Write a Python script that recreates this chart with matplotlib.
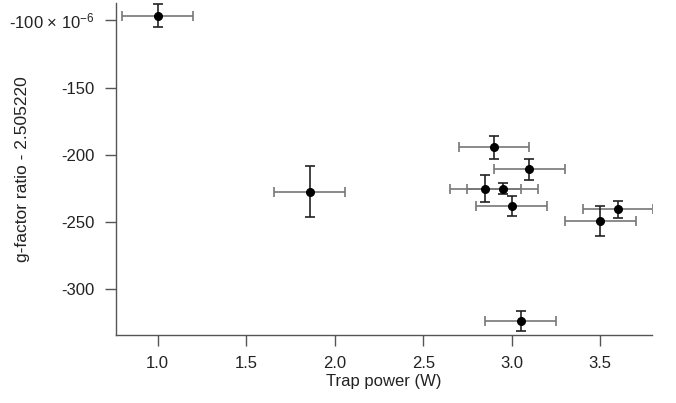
import numpy as np
import matplotlib.pyplot as plt

# trap power (W) and g-factor ratio offset (x 1e-6)
power = [1.00, 1.86, 2.90, 3.10, 2.85, 2.95, 3.00, 3.60, 3.50, 3.05]
ratio = [-96.6, -227.3, -194.4, -210.7, -225.1, -225.1, -238.2, -240.4, -249.1, -323.6]
ratio_err = [8.4, 18.7, 8.7, 7.7, 9.9, 4.3, 7.5, 6.4, 11.0, 7.5]
power_err = [0.2] * 10

yticks = [-100, -150, -200, -250, -300]
ytick_labels = ['-100 × 10$^{-6}$', '-150', '-200', '-250', '-300']
xticks = [1.0, 1.5, 2.0, 2.5, 3.0, 3.5]

plt.rcParams['font.family'] = ['Liberation Sans', 'DejaVu Sans']
plt.rcParams['mathtext.default'] = 'regular'

fig = plt.figure(figsize=(6.76, 4.03), dpi=100)
ax = fig.add_axes([0.171, 0.169, 0.793, 0.8236])

ax.errorbar(power, ratio, xerr=power_err, fmt='none', ecolor='#777777',
            elinewidth=1.2, capsize=3.6, capthick=1.2, zorder=2)
ax.errorbar(power, ratio, yerr=ratio_err, fmt='none', ecolor='#222222',
            elinewidth=1.2, capsize=3.6, capthick=1.2, zorder=3)
ax.plot(power, ratio, 'o', color='black', ms=5.5, zorder=4)

ax.set_xlim(0.763, 3.79)
ax.set_ylim(-333.8, -87.1)
ax.set_xticks(xticks)
ax.set_xticklabels([f'{t:.1f}' for t in xticks])
ax.set_yticks(yticks)
ax.set_yticklabels(ytick_labels)

for s in ['top', 'right']:
    ax.spines[s].set_visible(False)
for s in ['left', 'bottom']:
    ax.spines[s].set_color('#555555')
    ax.spines[s].set_linewidth(1.0)
ax.tick_params(direction='out', length=8, width=1, color='#555555',
               labelsize=12, labelcolor='#222222', pad=7)

ax.set_xlabel('Trap power (W)', fontsize=12, color='#222222', labelpad=2)
ax.set_ylabel('g-factor ratio - 2.505220', fontsize=12.5, color='#222222')
ax.yaxis.set_label_coords(-0.16, 0.5)

fig.savefig('out.png', dpi=100)
